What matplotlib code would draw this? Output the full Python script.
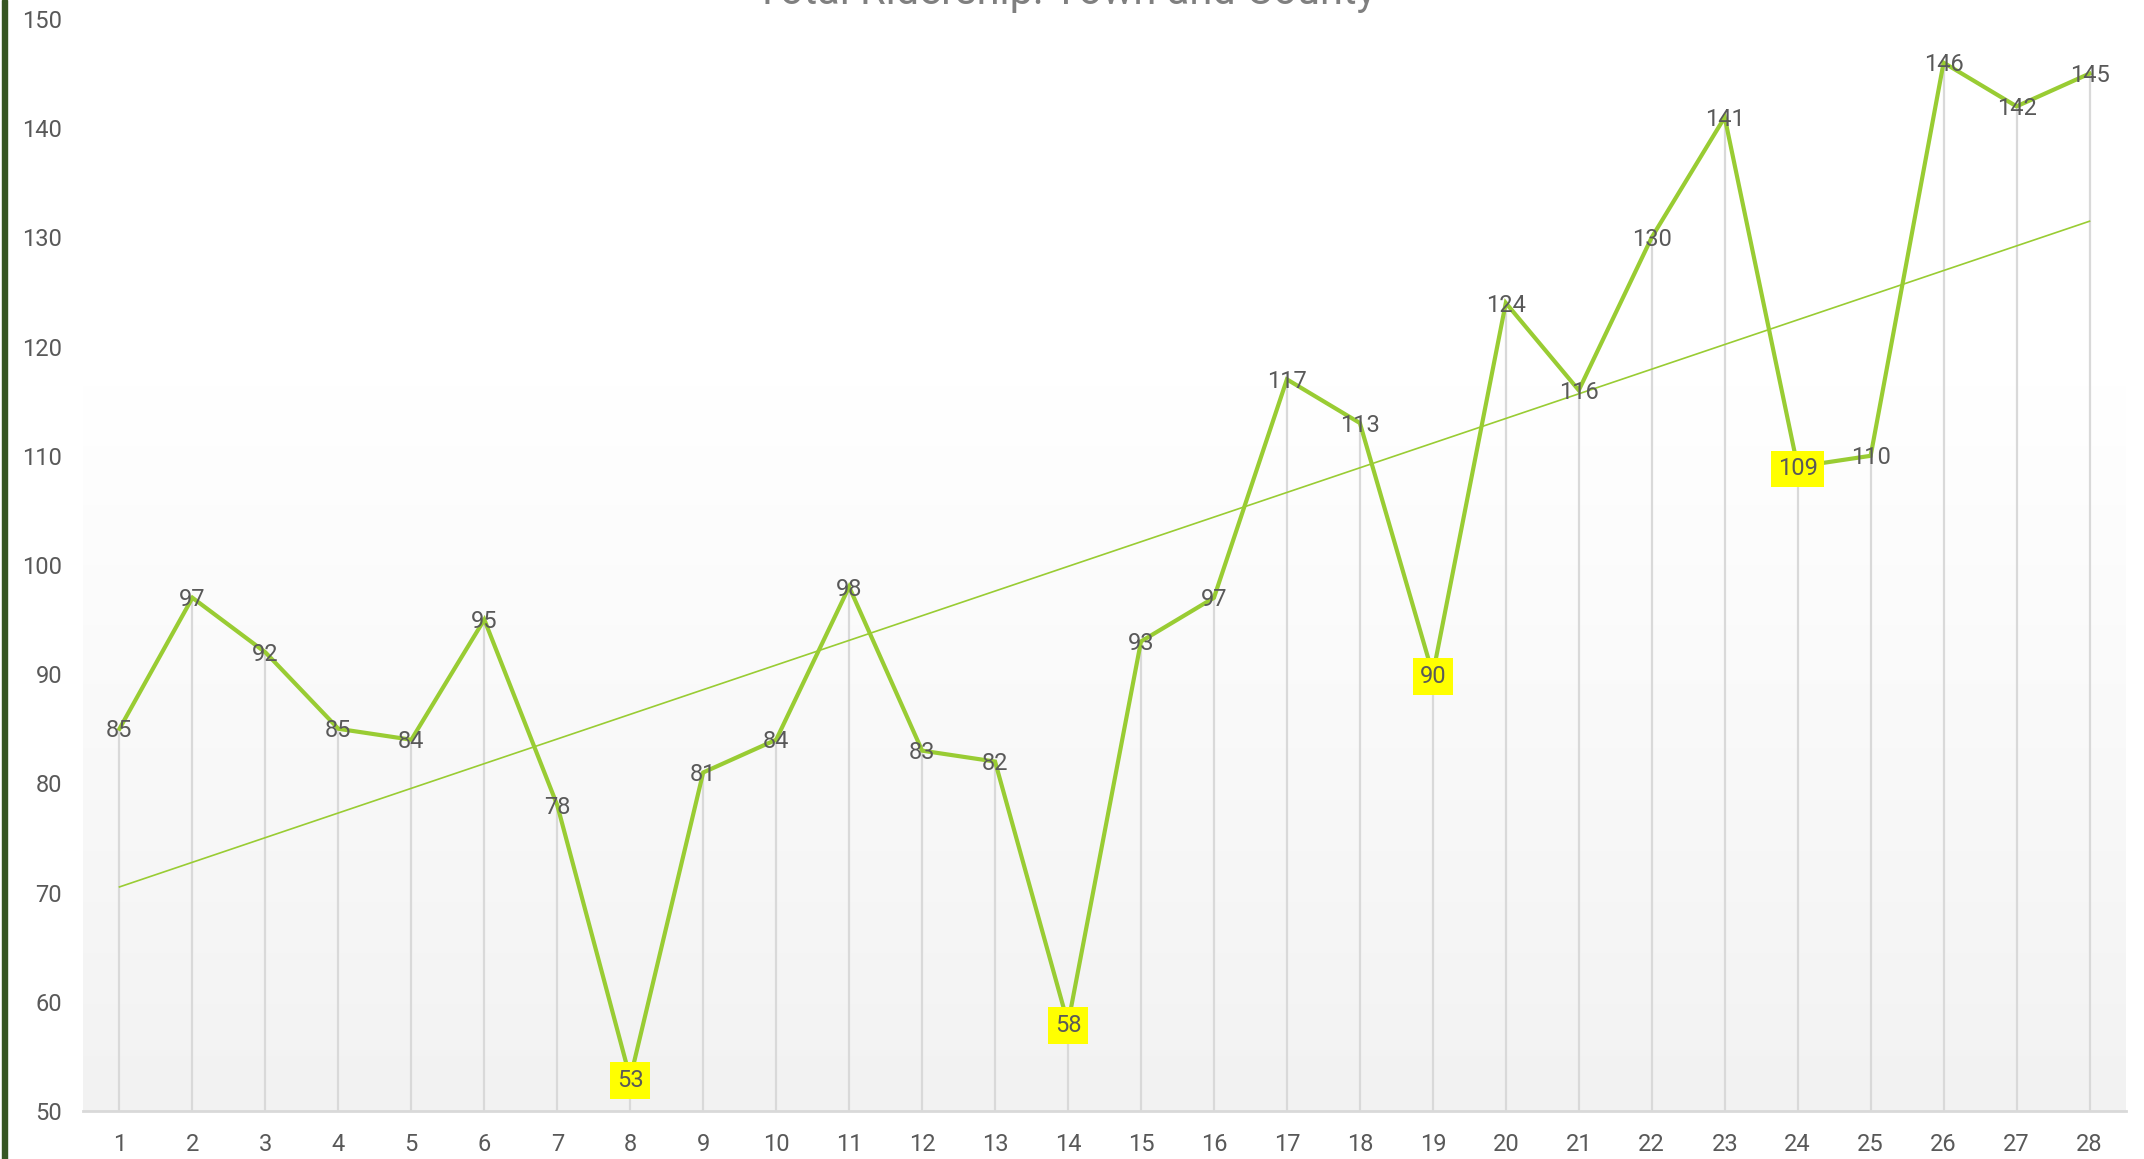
import numpy as np
import matplotlib
matplotlib.use("Agg")
import matplotlib.pyplot as plt
from matplotlib.patches import Rectangle

# chart data
months = list(range(1, 29))
riders = [85, 97, 92, 85, 84, 95, 78, 53, 81, 84, 98, 83, 82, 58,
          93, 97, 117, 113, 90, 124, 116, 130, 141, 109, 110, 146, 142, 145]
highlighted = [53, 58, 90, 109]
y_ticks = [50, 60, 70, 80, 90, 100, 110, 120, 130, 140, 150]
title = "Total Ridership: Town and County"

text_col = "#595959"
line_col = "#99CC33"
font = ["Roboto", "DejaVu Sans"]

W, H = 2144, 1159
fig = plt.figure(figsize=(W / 100, H / 100), dpi=100)
ax = fig.add_axes([83 / W, 1 - 1111 / H, (2126 - 83) / W, (1111 - 19) / H])

ax.set_xlim(0.5, 28.5)
ax.set_ylim(50, 150)

# plot area gradient, white at top to light grey at bottom
grad = np.linspace(0, 1, 256).reshape(-1, 1)
ax.imshow(grad, cmap=matplotlib.colors.LinearSegmentedColormap.from_list(
    "bg", ["#f2f2f2", "#f9f9f9", "#ffffff", "#ffffff"]), origin="lower",
    aspect="auto", extent=(0.5, 28.5, 50, 150), zorder=0)

# drop lines
ax.vlines(months, 50, riders, color="#d9d9d9", lw=1.6, zorder=1)

# trend line
k, b = np.polyfit(months, riders, 1)
xs = np.array([1, 28])
ax.plot(xs, k * xs + b, color=line_col, lw=1.2, zorder=2)

ax.plot(months, riders, color=line_col, lw=3.0, zorder=3,
        solid_joinstyle="miter")

for m, v in zip(months, riders):
    box = None
    if v in highlighted:
        box = dict(facecolor="#FFFF00", edgecolor="none", pad=5)
    ax.text(m, v - 0.2, str(v), ha="center", va="center", fontsize=17,
            color=text_col, family=font, bbox=box, zorder=4)

for s in ["left", "right", "top"]:
    ax.spines[s].set_visible(False)
ax.spines["bottom"].set_color("#d9d9d9")
ax.spines["bottom"].set_linewidth(2)

ax.set_xticks(months)
ax.set_xticklabels([str(m) for m in months])
ax.set_yticks(y_ticks)
ax.tick_params(length=0, labelsize=17, labelcolor=text_col)
ax.tick_params(axis="x", pad=16)
ax.tick_params(axis="y", pad=15)
for lab in ax.get_xticklabels() + ax.get_yticklabels():
    lab.set_family(font)

fig.text(1066 / W, 1 - 4 / H, title, ha="center", va="baseline",
         fontsize=30, color="#7f7f7f", family=font)

# dark green strip at the left edge
fig.patches.append(Rectangle((2 / W, 0), 5 / W, 1, transform=fig.transFigure,
                             color="#375623", zorder=5))

fig.savefig("out.png", dpi=100)
